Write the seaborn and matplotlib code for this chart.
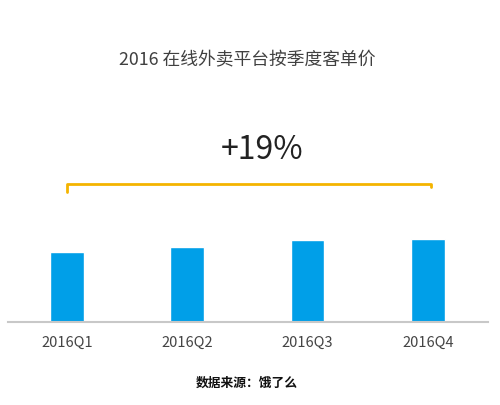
import matplotlib
matplotlib.use("Agg")
import matplotlib.pyplot as plt
import seaborn as sns
import pandas as pd

# Quarterly average order value (relative units)
quarters = ["2016Q1", "2016Q2", "2016Q3", "2016Q4"]
order_value = [42.0, 45.0, 49.2, 49.9]

title = "2016 在线外卖平台按季度客单价"
source = "数据来源：饿了么"

sns.set_theme(style="white")
plt.rcParams["font.family"] = ["Noto Sans CJK SC", "DejaVu Sans"]

df = pd.DataFrame({"quarter": quarters, "value": order_value})

fig = plt.figure(figsize=(5.0, 4.06), dpi=100)
fig.patch.set_facecolor("white")
ax = fig.add_axes([0.016, 0.2044, 0.96, 0.4515])

sns.barplot(data=df, x="quarter", y="value", color="#009FE8", saturation=1,
            width=0.28, ax=ax)

ax.set_xlim(-0.49, 3.5)
ax.set_ylim(0, 110)
ax.set_xlabel("")
ax.set_ylabel("")
ax.set_yticks([])
for side in ["top", "right", "left"]:
    ax.spines[side].set_visible(False)
ax.spines["bottom"].set_color("#C8C8C8")
ax.spines["bottom"].set_linewidth(1.5)
ax.tick_params(axis="x", length=0, pad=9, labelsize=10.5, labelcolor="#444444")

# Growth bracket from first to last quarter
growth = order_value[-1] / order_value[0] - 1
bracket_y = 82.8
gold = "#F4B400"
ax.plot([0, 0, 3.03, 3.03], [78.2, bracket_y, bracket_y, 81.0],
        color=gold, lw=2, solid_joinstyle="round", clip_on=False)
ax.text(1.62, 104, f"+{growth * 100:.0f}%", ha="center", va="center",
        fontsize=23, color="#222222", fontweight="light", clip_on=False)

fig.text(0.494, 1 - 60 / 406, title, ha="center", va="center",
         fontsize=12.8, color="#404040")
fig.text(0.493, 1 - 383 / 406, source, ha="center", va="center",
         fontsize=9.2, color="#111111", fontweight="bold")

fig.savefig("out.png", dpi=100, facecolor="white")
